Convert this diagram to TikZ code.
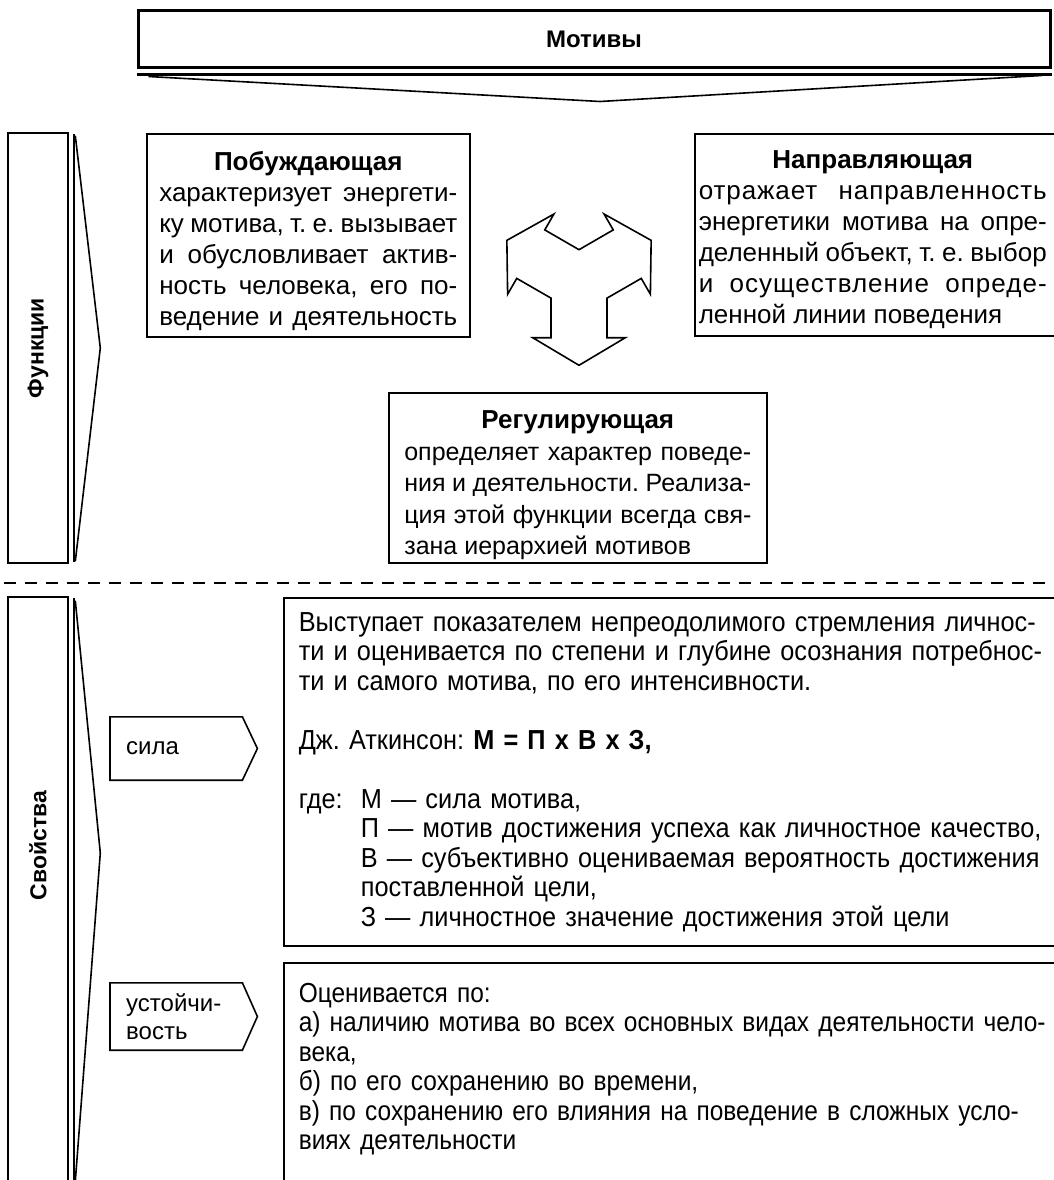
\documentclass[tikz,border=0pt]{standalone}
\usepackage{fontspec}
\setmainfont{Liberation Sans}
\newfontfamily\narrowfont{Liberation Sans}[FakeStretch=0.92]
\newfontfamily\narrowerfont{Liberation Sans}[FakeStretch=0.89]
\usetikzlibrary{positioning,calc}
\newcommand\ttl{\bfseries\fontsize{26}{31}\selectfont}
\newcommand\lowfont{\narrowfont\fontsize{27.5}{29.5}\selectfont}
\newcommand\fillline[1]{\makebox[\jw][s]{#1}}
\newcommand\spaced[1]{\addfontfeature{LetterSpace=#1}}

\begin{document}
\frenchspacing
\begin{tikzpicture}[x=1pt, y=-1pt, line join=miter]
  \tikzstyle{txtbox}=[draw,line width=1.6pt,inner sep=0pt,font=\fontsize{26}{31}\selectfont]
  \tikzstyle{lowbox}=[draw,line width=1.6pt,inner xsep=15pt,inner ysep=0pt,align=left,font=\lowfont]
  \tikzstyle{bar}=[draw,line width=2.6pt,minimum width=60pt,inner sep=0pt,font=\fontsize{23}{26}\selectfont\bfseries]
  \tikzstyle{tab}=[minimum width=132pt,minimum height=63pt,inner sep=0pt,text width=100pt,align=left,font=\fontsize{24}{28}\selectfont]
  \tikzstyle{edge}=[line width=1.6pt]
  \useasboundingbox (0,0) rectangle (1053,1180);
  \fill[white] (0,0) rectangle (1053,1180);

  % top banner
  \node[draw,line width=3pt,minimum width=912pt,minimum height=57pt,font=\fontsize{24}{28}\selectfont\bfseries] (motivy) at (594,39.5) {Мотивы};
  \draw[line width=2.6pt] ($(motivy.south west)+(0,5)$) -- ($(motivy.south east)+(0,5)$);
  \draw[edge] ($(motivy.south west)+(12,7)$) -- ($(motivy.south)+(6,32)$) -- ($(motivy.south east)+(-10,6)$);

  % functions
  \node[bar,minimum height=430pt] (funkcii) at (38,348) {\rotatebox{90}{Функции}};
  \draw[line width=2pt] ($(funkcii.north east)+(5,2)$) -- ($(funkcii.south east)+(5,-2)$);
  \draw[edge] ($(funkcii.north east)+(6,4)$) -- ($(funkcii.east)+(31,0)$) -- ($(funkcii.south east)+(6,-3)$);

  \node[txtbox,anchor=north west,minimum width=323pt,text height=37pt,text depth=166pt] (pobuzhd) at (146,133) {%
    \def\jw{298pt}\begin{tabular}[t]{@{}l@{}}
    \multicolumn{1}{@{}c@{}}{\ttl Побуждающая}\\
    \fillline{характеризует энергети-}\\
    \fillline{ку мотива, т. е. вызывает}\\
    \fillline{и обусловливает актив-}\\
    \fillline{ность человека, его по-}\\
    \fillline{ведение и деятельность}
    \end{tabular}};
  \node[txtbox,anchor=north west,minimum width=376pt,text height=35pt,text depth=167pt] (napravl) at (694,133) {%
    \def\jw{348pt}\begin{tabular}[t]{@{}l@{\hspace{20pt}}}
    \multicolumn{1}{@{}c@{\hspace{20pt}}}{\ttl Направляющая}\\
    \fillline{\spaced{3.5}отражает направленность}\\
    \fillline{энергетики мотива на опре-}\\
    \fillline{деленный объект, т. е. выбор}\\
    \fillline{\spaced{4}и осуществление опреде-}\\
    ленной линии поведения
    \end{tabular}};
  \node[txtbox,anchor=north west,minimum width=378pt,text height=36pt,text depth=134pt,
        font=\fontsize{25}{31.5}\selectfont] (regul) at (388,392) {%
    \def\jw{347pt}\begin{tabular}[t]{@{}l@{}}
    \multicolumn{1}{@{}c@{}}{\ttl Регулирующая}\\
    \fillline{определяет характер поведе-}\\
    \fillline{ния и деятельности. Реализа-}\\
    \fillline{ция этой функции всегда свя-}\\
    зана иерархией мотивов
    \end{tabular}};

  % three-way arrow
  \coordinate (tri) at (579,282);
  \draw[edge] ($(tri)+(30:32.3)$)
    \foreach \a in {90,210,330}{
      -- ($(tri)+(\a:55.7)+(\a-90:28)$) -- ($(tri)+(\a:55.7)+(\a-90:46.3)$)
      -- ($(tri)+(\a:83.3)$)
      -- ($(tri)+(\a:55.7)+(\a+90:46.3)$) -- ($(tri)+(\a:55.7)+(\a+90:28)$)
      -- ($(tri)+(\a+60:32.3)$)} -- cycle;

  % separator
  \coordinate (sepL) at (4,583);
  \coordinate (sepR) at (1053,583);
  \draw[line width=1.5pt,dash pattern=on 12pt off 9pt] (sepL) -- (sepR);

  % properties
  \node[bar,minimum height=593pt,label={[font=\fontsize{23}{26}\selectfont\bfseries,yshift=48pt]center:\rotatebox{90}{Свойства}}] (svoistva) at (38,893.5) {};
  \draw[line width=2pt] ($(svoistva.north east)+(5,2)$) -- ($(svoistva.south east)+(5,0)$);
  \draw[edge] ($(svoistva.north east)+(6,5)$) -- ($(svoistva.east)+(31,-40.5)$) -- ($(svoistva.south east)+(6,-10)$);

  \node[tab,anchor=west] (silaLbl) at (110,748.5) {сила};
  \draw[edge] (silaLbl.north west) -- (silaLbl.north east) -- ($(silaLbl.east)+(15,0)$) -- (silaLbl.south east) -- (silaLbl.south west) -- cycle;
  \node[tab,anchor=west,minimum height=67pt] (ustoiLbl) at (110,1016.5) {устойчи-\\вость};
  \draw[edge] (ustoiLbl.north west) -- (ustoiLbl.north east) -- ($(ustoiLbl.east)+(15,0)$) -- (ustoiLbl.south east) -- (ustoiLbl.south west) -- cycle;

  \node[lowbox,anchor=north west,text width=790pt,minimum height=348pt] (silaTxt) at (283,597) {%
    Выступает показателем непреодолимого стремления личнос-\\
    ти и оценивается по степени и глубине осознания потребнос-\\
    ти и самого мотива, по его интенсивности.\\[29.5pt]
    Дж. Аткинсон: \textbf{М = П х В х З,}\\[29.5pt]
    \makebox[62pt][l]{где:}М — сила мотива,\\
    \hspace*{62pt}П — мотив достижения успеха как личностное качество,\\
    \hspace*{62pt}В — субъективно оцениваемая вероятность достижения\\
    \hspace*{62pt}поставленной цели,\\
    \hspace*{62pt}З — личностное значение достижения этой цели};
  \node[lowbox,anchor=north west,text width=790pt,inner ysep=20pt,text depth=260pt,
        font={\narrowerfont\fontsize{27.5}{29.5}\selectfont}] (ustoiTxt) at (283,962) {%
    Оценивается по:\\
    а) наличию мотива во всех основных видах деятельности чело-\\
    века,\\
    б) по его сохранению во времени,\\
    в) по сохранению его влияния на поведение в сложных усло-\\
    виях деятельности};
\end{tikzpicture}
\end{document}
